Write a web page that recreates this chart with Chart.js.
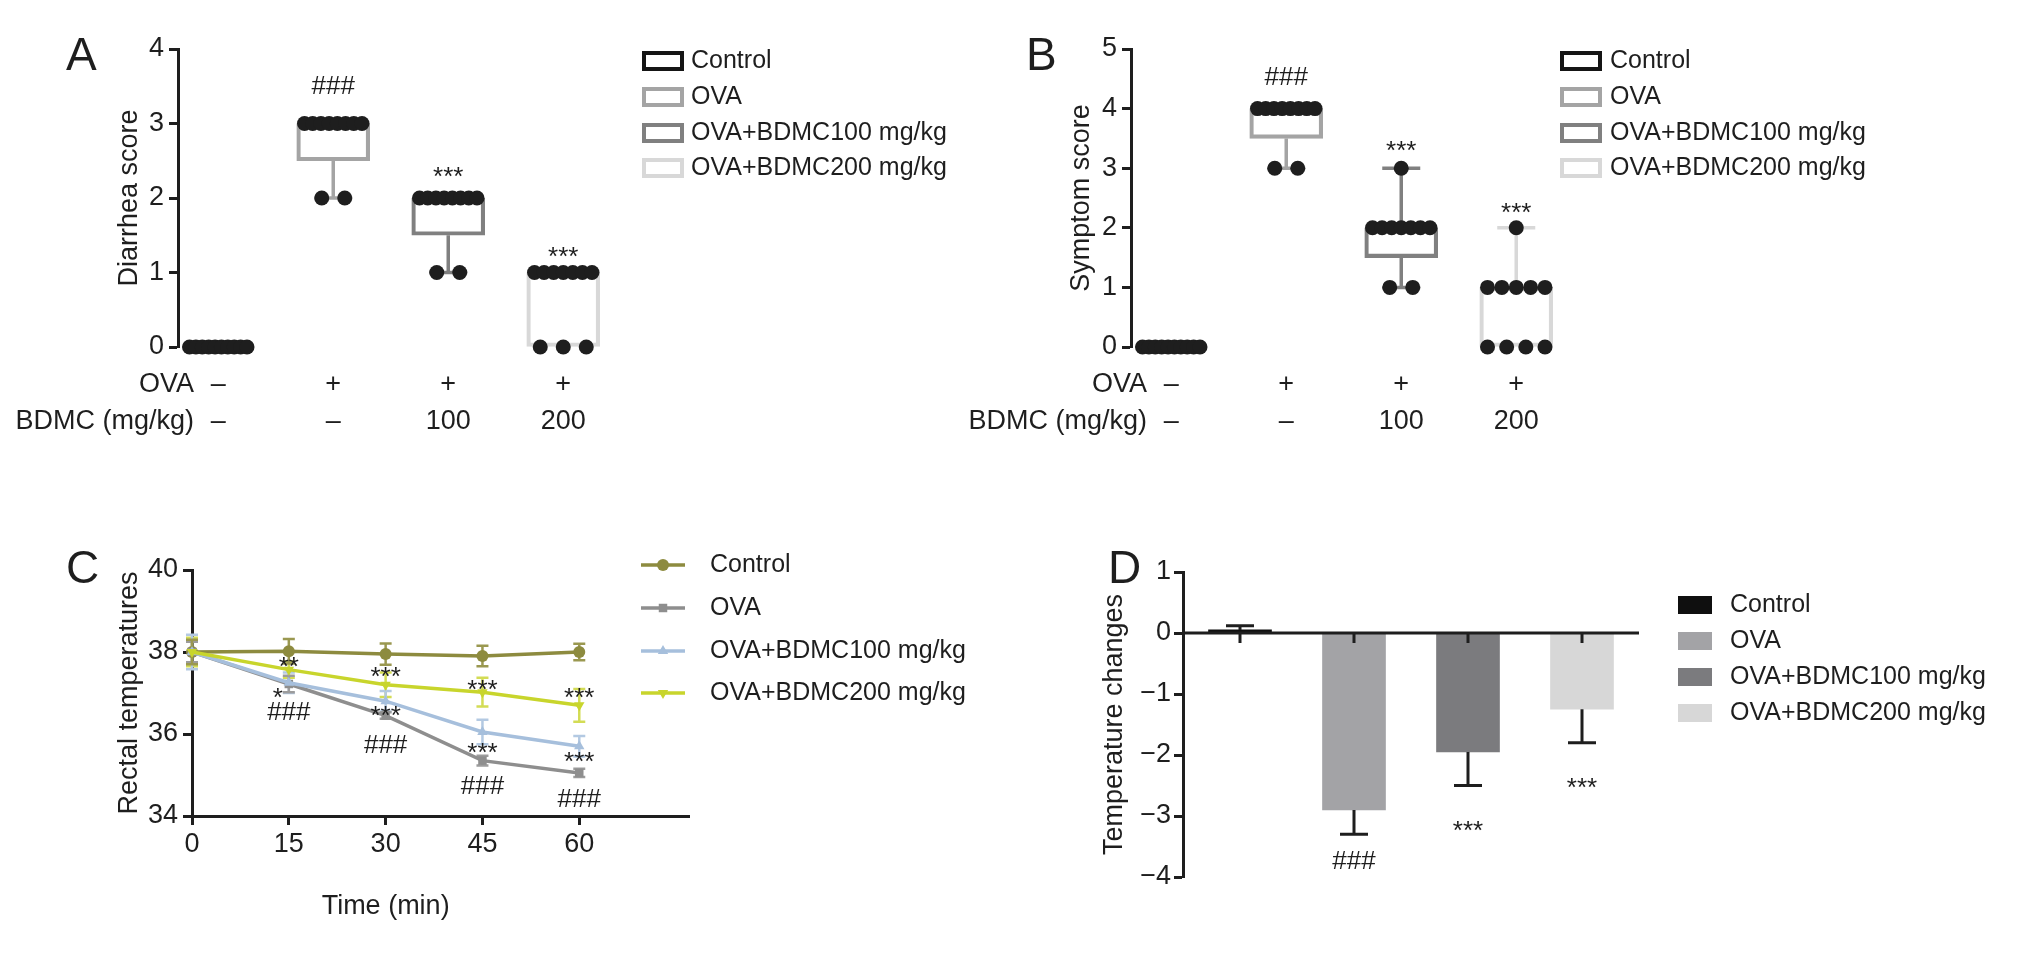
<!DOCTYPE html>
<html>
<head>
<meta charset="utf-8">
<script src="https://cdn.jsdelivr.net/npm/chart.js@4.4.1/dist/chart.umd.min.js"></script>
<style>
  html, body { margin: 0; background: #fff; }
  #wrap { position: relative; width: 2032px; height: 977px; }
  #wrap canvas { position: absolute; left: 0; top: 0; }
</style>
</head>
<body>
<div id="wrap">
  <canvas id="chartA" width="2032" height="977"></canvas>
  <canvas id="chartB" width="2032" height="977"></canvas>
  <canvas id="chartC" width="2032" height="977"></canvas>
  <canvas id="chartD" width="2032" height="977"></canvas>
</div>
<script>
// ---- data ----
const groupNames = ['Control', 'OVA', 'OVA+BDMC100 mg/kg', 'OVA+BDMC200 mg/kg'];
const ovaRow = ['–', '+', '+', '+'];
const bdmcRow = ['–', '–', '100', '200'];

// A: diarrhea score, one value per mouse
const diarrheaControl = [0, 0, 0, 0, 0, 0, 0, 0, 0, 0];
const diarrheaOva = [3, 3, 3, 3, 3, 3, 3, 3, 2, 2];
const diarrheaBdmc100 = [2, 2, 2, 2, 2, 2, 2, 2, 1, 1];
const diarrheaBdmc200 = [1, 1, 1, 1, 1, 1, 1, 0, 0, 0];
// min, q1, median, q3, max
const diarrheaBox = [[0, 0, 0, 0, 0], [2, 2.5, 3, 3, 3], [1, 1.5, 2, 2, 2], [0, 0, 1, 1, 1]];
const diarrheaSig = ['', '###', '***', '***'];
const diarrheaSigAt = [0, 3.52, 2.37, 1.3];

// B: symptom score
const symptomControl = [0, 0, 0, 0, 0, 0, 0, 0, 0, 0];
const symptomOva = [4, 4, 4, 4, 4, 4, 4, 4, 3, 3];
const symptomBdmc100 = [3, 2, 2, 2, 2, 2, 2, 2, 1, 1];
const symptomBdmc200 = [2, 1, 1, 1, 1, 1, 0, 0, 0, 0];
const symptomBox = [[0, 0, 0, 0, 0], [3, 3.5, 4, 4, 4], [1, 1.5, 2, 2, 3], [0, 0, 1, 1, 2]];
const symptomSig = ['', '###', '***', '***'];
const symptomSigAt = [0, 4.55, 3.4, 2.36];

// C: rectal temperature, mean and SD
const timeMin = [0, 15, 30, 45, 60];
const tempControl = [38.0, 38.02, 37.95, 37.9, 38.0];
const tempOva = [38.0, 37.22, 36.45, 35.35, 35.05];
const tempBdmc100 = [38.0, 37.25, 36.8, 36.05, 35.7];
const tempBdmc200 = [38.0, 37.57, 37.2, 37.02, 36.7];
const sdControl = [0.3, 0.3, 0.26, 0.25, 0.2];
const sdOva = [0.25, 0.2, 0.08, 0.12, 0.1];
const sdBdmc100 = [0.42, 0.25, 0.25, 0.3, 0.25];
const sdBdmc200 = [0.35, 0.2, 0.3, 0.35, 0.4];
const timeTicks = [0, 15, 30, 45, 60];
const tempTicks = [34, 36, 38, 40];
// [minute, temperature, label]
const tempSig = [
  [15, 37.8, '**'], [13.3, 37.05, '*'], [15, 36.55, '###'],
  [30, 37.55, '***'], [30, 36.62, '***'], [30, 35.75, '###'],
  [45, 37.25, '***'], [45, 35.7, '***'], [45, 34.75, '###'],
  [60, 37.05, '***'], [60, 35.5, '***'], [60, 34.45, '###']
];

// D: temperature change
const tempChangeMean = [0.05, -2.9, -1.95, -1.25];
const tempChangeSd = [0.07, 0.4, 0.55, 0.55];
const tempChangeSig = ['', '###', '***', '***'];

// ---- style ----
const INK = '#1e1e1e';
const FONT = '"Liberation Sans", Arial, Helvetica, sans-serif';
const boxColors = ['#151515', '#a4a4a4', '#808080', '#d8d8d8'];
const barColors = ['#0f0f0f', '#a3a3a6', '#7b7b7e', '#d7d7d7'];
const lineColors = ['#8d8b3f', '#8e8e8e', '#a6bfdc', '#c8d52c'];
const errColors = ['#9a9850', '#9c9c9c', '#b3c9e2', '#d3dc55'];
const pointStyles = ['circle', 'rect', 'triangle', 'triangle'];
const pointRots = [0, 0, 0, 180];

Chart.defaults.font.family = FONT;
Chart.defaults.font.size = 27;
Chart.defaults.color = INK;
Chart.defaults.animation = false;
Chart.defaults.plugins.legend.display = false;
Chart.defaults.plugins.tooltip.enabled = false;

const AXIS_W = 100;
const LEGEND_FONT = 25;
const LETTER_FONT = 46;

function text(ctx, str, x, y, size, align) {
  ctx.font = size + 'px ' + FONT;
  ctx.fillStyle = INK;
  ctx.textAlign = align || 'center';
  ctx.textBaseline = 'middle';
  ctx.fillText(str, x, y);
}

// significance marks: y is where the glyphs should sit
function sig(ctx, str, x, y) {
  ctx.font = '26px ' + FONT;
  ctx.fillStyle = INK;
  ctx.textAlign = 'center';
  ctx.textBaseline = 'alphabetic';
  ctx.fillText(str, x, y + (str.indexOf('*') >= 0 ? 15 : 9));
}

function yAxis(min, max, title, titleX, axisX, tickPad, extra) {
  return Object.assign({
    min: min, max: max,
    ticks: { stepSize: 1, padding: tickPad, color: INK },
    grid: { drawOnChartArea: false, drawTicks: true, tickLength: 9, tickWidth: 3, tickColor: INK },
    border: { display: true, color: INK, width: 3 },
    title: { display: true, text: title, color: INK, font: { size: 27 },
             padding: { top: titleX - (axisX - AXIS_W) - 16.2, bottom: 0 } },
    afterFit(s) { s.width = AXIS_W; }
  }, extra || {});
}

// spread tied scores side by side (in category units)
function swarm(values, center) {
  const counts = {};
  values.forEach(v => { counts[v] = (counts[v] || 0) + 1; });
  const seen = {};
  return values.map(v => {
    const n = counts[v];
    const k = seen[v] = seen[v] === undefined ? 0 : seen[v] + 1;
    const step = n > 1 ? Math.min(0.2, 0.5 / (n - 1)) : 0;
    return { x: center + (k - (n - 1) / 2) * step, y: v };
  });
}

function boxPanel(id, cfg) {
  const unit = 115, xMin = 0.65, xMax = 4.45;
  const right = cfg.axisX + (xMax - xMin) * unit;
  const dots = cfg.scores.flatMap((vals, i) => swarm(vals, i + 1));

  const extras = {
    id: 'extras' + id,
    beforeDatasetsDraw(chart) {
      const { ctx, scales: { x, y } } = chart;
      ctx.save();
      ctx.lineWidth = 3.5;
      cfg.box.forEach((b, i) => {
        const cx = x.getPixelForValue(i + 1);
        ctx.strokeStyle = boxColors[i];
        const whisker = (from, to) => {
          if (from === to) return;
          ctx.beginPath();
          ctx.moveTo(cx, y.getPixelForValue(from));
          ctx.lineTo(cx, y.getPixelForValue(to));
          ctx.moveTo(cx - 19, y.getPixelForValue(to));
          ctx.lineTo(cx + 19, y.getPixelForValue(to));
          ctx.stroke();
        };
        whisker(b[1], b[0]);
        whisker(b[3], b[4]);
      });
      ctx.restore();
    },
    afterDraw(chart) {
      const { ctx, scales: { x, y } } = chart;
      ctx.save();
      cfg.sig.forEach((s, i) => { if (s) sig(ctx, s, x.getPixelForValue(i + 1), y.getPixelForValue(cfg.sigAt[i])); });
      text(ctx, 'OVA', cfg.axisX + 16, 385, 27, 'right');
      text(ctx, 'BDMC (mg/kg)', cfg.axisX + 16, 422, 27, 'right');
      ovaRow.forEach((s, i) => text(ctx, s, x.getPixelForValue(i + 1), 385, 27));
      bdmcRow.forEach((s, i) => text(ctx, s, x.getPixelForValue(i + 1), 422, 27));
      text(ctx, cfg.letter, cfg.letterX, 57, LETTER_FONT, 'left');
      const rows = [61, 97, 133, 168];
      groupNames.forEach((g, i) => {
        ctx.lineWidth = 4;
        ctx.strokeStyle = boxColors[i];
        ctx.strokeRect(cfg.legendX, rows[i] - 8, 38, 16);
        text(ctx, g, cfg.legendTextX, rows[i], LEGEND_FONT, 'left');
      });
      ctx.restore();
    }
  };

  return new Chart(document.getElementById(id), {
    type: 'bar',
    data: {
      datasets: [
        { type: 'scatter', data: dots, pointRadius: 7.5, pointBackgroundColor: INK,
          pointBorderWidth: 0, clip: false, order: 1 },
        { type: 'bar', data: cfg.box.map((b, i) => ({ x: i + 1, y: [b[1], b[3]] })),
          backgroundColor: 'rgba(0,0,0,0)', borderColor: boxColors, borderWidth: 3.5,
          borderSkipped: false, barThickness: 73, order: 2 }
      ]
    },
    options: {
      responsive: false,
      layout: { padding: { left: cfg.axisX - AXIS_W, top: cfg.top, right: 2032 - right, bottom: 977 - cfg.bottom } },
      scales: {
        x: { type: 'linear', min: xMin, max: xMax, offset: false, display: false },
        y: yAxis(0, cfg.yMax, cfg.title, cfg.titleX, cfg.axisX, 5)
      }
    },
    plugins: [extras]
  });
}

// ---- A ----
boxPanel('chartA', {
  axisX: 178, top: 49, bottom: 347, yMax: 4,
  title: 'Diarrhea score', titleX: 130,
  scores: [diarrheaControl, diarrheaOva, diarrheaBdmc100, diarrheaBdmc200],
  box: diarrheaBox, sig: diarrheaSig, sigAt: diarrheaSigAt,
  letter: 'A', letterX: 66, legendX: 644, legendTextX: 691
});

// ---- B ----
boxPanel('chartB', {
  axisX: 1131, top: 49, bottom: 347, yMax: 5,
  title: 'Symptom score', titleX: 1082,
  scores: [symptomControl, symptomOva, symptomBdmc100, symptomBdmc200],
  box: symptomBox, sig: symptomSig, sigAt: symptomSigAt,
  letter: 'B', letterX: 1026, legendX: 1562, legendTextX: 1610
});

// ---- C ----
const tempMeans = [tempControl, tempOva, tempBdmc100, tempBdmc200];
const tempSds = [sdControl, sdOva, sdBdmc100, sdBdmc200];
const C_AXIS = 192, C_TOP = 570, C_BOTTOM = 816, C_RIGHT = 689;

const tempExtras = {
  id: 'tempExtras',
  beforeDatasetsDraw(chart) {
    const { ctx, scales: { y } } = chart;
    ctx.save();
    ctx.lineWidth = 2.5;
    chart.data.datasets.forEach((ds, di) => {
      const g = ds.group;
      const meta = chart.getDatasetMeta(di);
      ctx.strokeStyle = errColors[g];
      meta.data.forEach((pt, i) => {
        const v = tempMeans[g][i], e = tempSds[g][i];
        const y1 = y.getPixelForValue(v + e), y2 = y.getPixelForValue(v - e);
        ctx.beginPath();
        ctx.moveTo(pt.x, y1); ctx.lineTo(pt.x, y2);
        ctx.moveTo(pt.x - 6, y1); ctx.lineTo(pt.x + 6, y1);
        ctx.moveTo(pt.x - 6, y2); ctx.lineTo(pt.x + 6, y2);
        ctx.stroke();
      });
    });
    ctx.restore();
  },
  afterDraw(chart) {
    const { ctx, scales: { x, y } } = chart;
    ctx.save();
    tempSig.forEach(s => sig(ctx, s[2], x.getPixelForValue(s[0]), y.getPixelForValue(s[1])));
    text(ctx, 'Time (min)', x.getPixelForValue(30), 907, 27);
    text(ctx, 'C', 66, 570, LETTER_FONT, 'left');
    const rows = [565, 608, 651, 693];
    groupNames.forEach((g, i) => {
      ctx.strokeStyle = lineColors[i];
      ctx.lineWidth = 3.5;
      ctx.beginPath();
      ctx.moveTo(641, rows[i]); ctx.lineTo(685, rows[i]);
      ctx.stroke();
      ctx.fillStyle = lineColors[i];
      Chart.helpers.drawPoint(ctx, { pointStyle: pointStyles[i], radius: 6, rotation: pointRots[i], borderWidth: 0 }, 663, rows[i]);
      text(ctx, g, 710, rows[i], LEGEND_FONT, 'left');
    });
    ctx.restore();
  }
};

new Chart(document.getElementById('chartC'), {
  type: 'line',
  data: {
    datasets: groupNames.map((g, i) => ({
      label: g, group: i,
      data: timeMin.map((t, k) => ({ x: t, y: tempMeans[i][k] })),
      borderColor: lineColors[i], backgroundColor: lineColors[i],
      borderWidth: 3.5, tension: 0,
      pointStyle: pointStyles[i], pointRotation: pointRots[i], pointRadius: 6, pointBorderWidth: 0,
      clip: false
    })).reverse()
  },
  options: {
    responsive: false,
    layout: { padding: { left: C_AXIS - AXIS_W, top: C_TOP, right: 2032 - C_RIGHT, bottom: 0 } },
    scales: {
      x: {
        type: 'linear', min: 0, max: 77,
        afterBuildTicks(s) { s.ticks = timeTicks.map(v => ({ value: v })); },
        ticks: { padding: 3, color: INK, maxRotation: 0 },
        grid: { drawOnChartArea: false, drawTicks: true, tickLength: 9, tickWidth: 3, tickColor: INK },
        border: { display: true, color: INK, width: 3 },
        afterFit(s) { s.height = 977 - C_BOTTOM; }
      },
      y: yAxis(34, 40, 'Rectal temperatures', 130, C_AXIS, 5, {
        afterBuildTicks(s) { s.ticks = tempTicks.map(v => ({ value: v })); }
      })
    }
  },
  plugins: [tempExtras]
});

// ---- D ----
const D_AXIS = 1183, D_TOP = 572, D_BOTTOM = 877, D_RIGHT = 1639;

const changeExtras = {
  id: 'changeExtras',
  afterDatasetsDraw(chart) {
    const { ctx, scales: { x, y } } = chart;
    const y0 = y.getPixelForValue(0);
    ctx.save();
    ctx.strokeStyle = INK;
    ctx.lineWidth = 3;
    ctx.beginPath();
    ctx.moveTo(chart.chartArea.left, y0); ctx.lineTo(chart.chartArea.right, y0);
    tempChangeMean.forEach((v, i) => {
      const cx = x.getPixelForValue(i);
      ctx.moveTo(cx, y0); ctx.lineTo(cx, y0 + 10);
      const end = v >= 0 ? v + tempChangeSd[i] : v - tempChangeSd[i];
      const ye = y.getPixelForValue(end);
      ctx.moveTo(cx, y.getPixelForValue(v)); ctx.lineTo(cx, ye);
      ctx.moveTo(cx - 14, ye); ctx.lineTo(cx + 14, ye);
    });
    ctx.stroke();
    tempChangeSig.forEach((s, i) => {
      if (!s) return;
      const end = tempChangeMean[i] - tempChangeSd[i];
      sig(ctx, s, x.getPixelForValue(i), y.getPixelForValue(end) + (s === '###' ? 26 : 38));
    });
    ctx.restore();
  },
  afterDraw(chart) {
    const { ctx } = chart;
    ctx.save();
    text(ctx, 'D', 1108, 570, LETTER_FONT, 'left');
    const rows = [605, 641, 677, 713];
    groupNames.forEach((g, i) => {
      ctx.fillStyle = barColors[i];
      ctx.fillRect(1678, rows[i] - 9, 34, 18);
      text(ctx, g, 1730, rows[i], LEGEND_FONT, 'left');
    });
    ctx.restore();
  }
};

new Chart(document.getElementById('chartD'), {
  type: 'bar',
  data: {
    labels: groupNames,
    datasets: [{ data: tempChangeMean, backgroundColor: barColors, borderWidth: 0, barThickness: 63 }]
  },
  options: {
    responsive: false,
    layout: { padding: { left: D_AXIS - AXIS_W, top: D_TOP, right: 2032 - D_RIGHT, bottom: 977 - D_BOTTOM } },
    scales: {
      x: { display: false },
      y: yAxis(-4, 1, 'Temperature changes', 1115, D_AXIS, 3, {
        ticks: { stepSize: 1, padding: 3, color: INK, callback: v => (v < 0 ? '\u2212' + Math.abs(v) : String(v)) }
      })
    }
  },
  plugins: [changeExtras]
});
</script>
</body>
</html>
